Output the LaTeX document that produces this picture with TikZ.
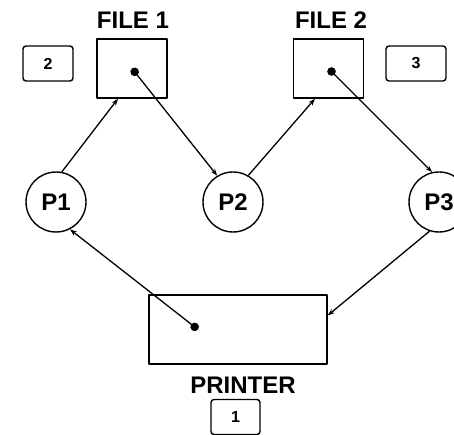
\documentclass[tikz,border=0pt]{standalone}
\usepackage{fontspec}
\setmainfont{Liberation Sans}
\usetikzlibrary{arrows.meta}
\begin{document}
\begin{tikzpicture}[x=1pt,y=-1pt, line join=round, line width=1.4pt, font=\bfseries,
  box/.style={draw, minimum width=70, minimum height=59, inner sep=0},
  proc/.style={draw, circle, minimum size=60, inner sep=0, font=\fontsize{24}{26}\selectfont\bfseries},
  tag/.style={draw, rounded corners=3pt, minimum height=35, inner sep=0, font=\fontsize{16}{18}\selectfont\bfseries},
  title/.style={font=\fontsize{24}{26}\selectfont\bfseries, inner sep=0},
  conn/.style={{Circle[length=8.5pt]}-{Stealth[length=7pt,width=5pt]}, line width=1.3pt}]
\def \ymid{202};
\useasboundingbox (0,0) rectangle (454,435);
\node[box] (file1) at (132,68.5) {};
\node[box] (file2) at (328.5,68.5) {};
\node[box, minimum width=178, minimum height=69] (printer) at (238,329.5) {};
\node[title] (f1title) at (133,20) {FILE 1};
\node[title] (f2title) at (331,20) {FILE 2};
\node[title] (prtitle) at (243,385) {PRINTER};
\foreach \n/\x in {1/56,2/233,3/439}{\node[proc] (p\n) at (\x,\ymid) {P\n};}
\foreach \n/\x/\y/\w in {2/48/63.5/50,3/416/63.5/60,1/235.5/417/49}{\node[tag, minimum width=\w] (tag\n) at (\x,\y) {\n};}
% requests and holdings
\draw[-{Stealth[length=7pt,width=5pt]}, line width=1.3pt] (p1.79) -- ([xshift=-14pt]file1.south);
\draw[conn] (file1.center) -- (p2.121);
\draw[-{Stealth[length=7pt,width=5pt]}, line width=1.3pt] (p2.60) -- ([xshift=-13.5pt]file2.south);
\draw[conn] (file2.center) -- (p3.103);
\draw[-{Stealth[length=7pt,width=5pt]}, line width=1.3pt] (p3.252) -- ([yshift=14pt]printer.east);
\draw[conn] ([xshift=-40pt]printer.center) -- (p1.297);
\end{tikzpicture}
\end{document}
